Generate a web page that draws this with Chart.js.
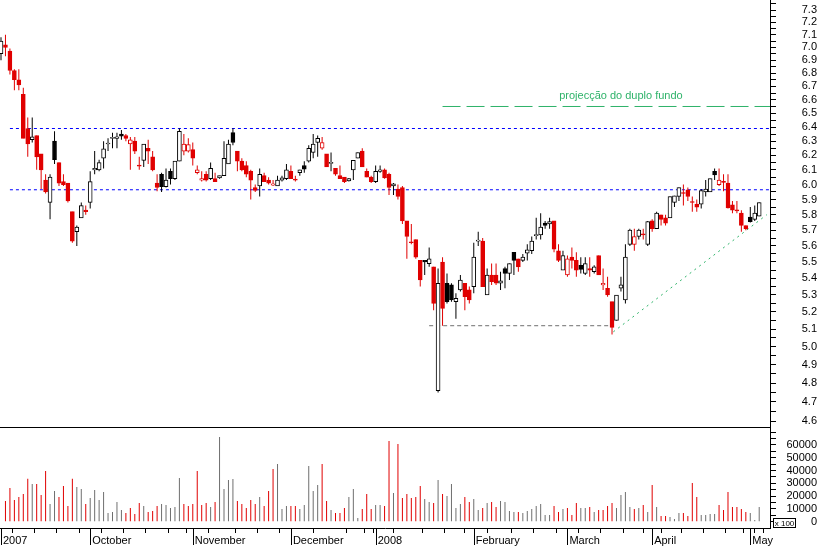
<!DOCTYPE html>
<html>
<head>
<meta charset="utf-8">
<title>Cotação diária</title>
<script src="https://cdn.jsdelivr.net/npm/chart.js@4.4.1/dist/chart.umd.min.js"></script>
<style>
  html, body { margin: 0; padding: 0; background: #ffffff; }
  #wrap { position: relative; width: 817px; height: 546px; overflow: hidden; background: #ffffff; }
  #price { position: absolute; left: 0; top: 0; }
  #volume { position: absolute; left: 0; top: 427px; }
</style>
</head>
<body>
<div id="wrap">
  <canvas id="price" width="817" height="427"></canvas>
  <canvas id="volume" width="817" height="119"></canvas>
</div>
<script>
// Daily sessions, Sep 2007 - May 2008 (one entry per session)
const opens = [
  6.95, 7.02, 6.97, 6.82, 6.75, 6.64, 6.39, 6.31, 6.34, 6.21,
  6.03, 5.88, 6.30, 6.15, 6.02, 6.01, 5.82, 5.69, 5.78, 5.83,
  5.88, 6.10, 6.10, 6.18, 6.28, 6.32, 6.32, 6.35, 6.34, 6.28,
  6.30, 6.13, 6.165, 6.25, 6.19, 6.01, 6.07, 5.985, 6.09, 6.04,
  6.16, 6.23, 6.23, 6.24, 6.08, 6.03, 6.07, 6.04, 6.04, 6.045,
  6.06, 6.14, 6.36, 6.23, 6.16, 6.13, 6.09, 5.98, 5.99, 6.06,
  6.03, 5.995, 5.99, 6.03, 6.04, 6.09, 6.032, 6.08, 6.13, 6.16,
  6.22, 6.29, 6.25, 6.21, 6.145, 6.11, 6.06, 6.05, 6.025, 6.10,
  6.18, 6.23, 6.09, 6.05, 6.02, 6.09, 6.10, 6.07, 5.99, 5.97,
  5.98, 5.76, 5.625, 5.64, 5.51, 5.51, 5.49, 5.47, 4.76, 5.50,
  5.37, 5.36, 5.26, 5.33, 5.37, 5.33, 5.35, 5.63, 5.63, 5.30,
  5.42, 5.42, 5.37, 5.46, 5.43, 5.56, 5.52, 5.51, 5.555, 5.57,
  5.665, 5.67, 5.745, 5.74, 5.76, 5.57, 5.45, 5.42, 5.53, 5.51,
  5.48, 5.43, 5.46, 5.44, 5.54, 5.36, 5.34, 5.26, 5.15, 5.34,
  5.27, 5.61, 5.61, 5.66, 5.675, 5.61, 5.76, 5.71, 5.80, 5.78,
  5.78, 5.88, 5.92, 5.945, 5.965, 5.885, 5.87, 5.87, 5.95, 5.95,
  6.09, 6.00, 6.02, 6.01, 5.865, 5.83, 5.81, 5.73, 5.785, 5.77,
  5.79
];
const highs = [
  7.08, 7.10, 6.99, 6.83, 6.83, 6.69, 6.47, 6.47, 6.34, 6.21,
  6.07, 6.07, 6.37, 6.15, 6.07, 6.01, 5.82, 5.73, 5.88, 5.86,
  6.09, 6.23, 6.17, 6.30, 6.32, 6.36, 6.36, 6.38, 6.35, 6.33,
  6.33, 6.19, 6.28, 6.31, 6.23, 6.07, 6.08, 6.11, 6.11, 6.16,
  6.39, 6.35, 6.32, 6.29, 6.13, 6.09, 6.09, 6.15, 6.08, 6.06,
  6.30, 6.31, 6.39, 6.23, 6.18, 6.16, 6.10, 6.00, 6.11, 6.08,
  6.05, 6.03, 6.06, 6.06, 6.14, 6.13, 6.06, 6.10, 6.16, 6.27,
  6.35, 6.34, 6.33, 6.21, 6.22, 6.11, 6.13, 6.05, 6.045, 6.165,
  6.22, 6.25, 6.11, 6.06, 6.13, 6.13, 6.11, 6.08, 6.01, 6.00,
  5.99, 5.76, 5.74, 5.64, 5.51, 5.51, 5.59, 5.47, 5.46, 5.53,
  5.43, 5.37, 5.31, 5.42, 5.37, 5.35, 5.62, 5.69, 5.65, 5.46,
  5.49, 5.49, 5.44, 5.47, 5.49, 5.56, 5.52, 5.55, 5.61, 5.66,
  5.78, 5.81, 5.76, 5.78, 5.76, 5.61, 5.57, 5.54, 5.59, 5.56,
  5.53, 5.53, 5.53, 5.48, 5.54, 5.46, 5.41, 5.26, 5.30, 5.41,
  5.61, 5.71, 5.71, 5.71, 5.71, 5.76, 5.77, 5.82, 5.80, 5.80,
  5.92, 5.925, 5.98, 6.00, 5.98, 5.92, 5.90, 5.97, 6.03, 6.04,
  6.11, 6.11, 6.07, 6.07, 5.89, 5.89, 5.83, 5.73, 5.85, 5.86,
  5.88
];
const lows = [
  6.90, 6.93, 6.79, 6.67, 6.67, 6.32, 6.19, 6.29, 6.10, 5.97,
  5.94, 5.77, 6.14, 5.99, 5.99, 5.88, 5.62, 5.60, 5.78, 5.80,
  5.84, 6.07, 6.09, 6.11, 6.23, 6.25, 6.25, 6.31, 6.30, 6.10,
  6.21, 6.10, 6.12, 6.14, 6.09, 5.955, 5.95, 5.98, 6.00, 6.03,
  6.16, 6.20, 6.22, 6.13, 6.07, 6.02, 6.02, 6.03, 6.02, 6.04,
  6.06, 6.14, 6.27, 6.09, 6.09, 6.05, 5.90, 5.95, 5.92, 6.02,
  6.00, 5.99, 5.99, 6.02, 6.03, 6.04, 6.02, 6.06, 6.08, 6.15,
  6.18, 6.19, 6.24, 6.12, 6.09, 6.06, 6.04, 6.01, 6.02, 6.03,
  6.18, 6.12, 6.05, 6.01, 6.01, 6.08, 6.04, 5.93, 5.93, 5.90,
  5.74, 5.52, 5.61, 5.52, 5.35, 5.42, 5.47, 5.21, 4.75, 5.12,
  5.25, 5.26, 5.16, 5.32, 5.21, 5.25, 5.31, 5.60, 5.35, 5.30,
  5.36, 5.36, 5.33, 5.34, 5.39, 5.42, 5.44, 5.50, 5.51, 5.55,
  5.64, 5.64, 5.71, 5.71, 5.56, 5.50, 5.45, 5.41, 5.46, 5.41,
  5.43, 5.42, 5.41, 5.43, 5.42, 5.33, 5.29, 5.07, 5.15, 5.32,
  5.25, 5.60, 5.57, 5.64, 5.64, 5.60, 5.69, 5.71, 5.73, 5.73,
  5.78, 5.85, 5.89, 5.86, 5.89, 5.82, 5.82, 5.84, 5.92, 5.95,
  6.03, 5.99, 5.955, 5.84, 5.81, 5.81, 5.69, 5.70, 5.75, 5.76,
  5.79
];
const closes = [
  7.05, 7.00, 6.82, 6.75, 6.71, 6.32, 6.28, 6.33, 6.19, 6.10,
  5.95, 6.05, 6.17, 6.01, 6.00, 5.89, 5.63, 5.72, 5.86, 5.82,
  6.02, 6.11, 6.15, 6.245, 6.285, 6.325, 6.33, 6.335, 6.32, 6.31,
  6.23, 6.125, 6.28, 6.23, 6.10, 5.98, 5.985, 6.03, 6.04, 6.16,
  6.37, 6.28, 6.275, 6.18, 6.10, 6.04, 6.03, 6.11, 6.02, 6.06,
  6.18, 6.28, 6.29, 6.16, 6.10, 6.07, 6.03, 5.96, 6.07, 6.02,
  6.01, 6.005, 6.03, 6.045, 6.10, 6.04, 6.03, 6.10, 6.105, 6.25,
  6.28, 6.32, 6.29, 6.12, 6.15, 6.07, 6.04, 6.02, 6.04, 6.165,
  6.22, 6.12, 6.05, 6.02, 6.09, 6.10, 6.045, 5.98, 6.005, 5.92,
  5.76, 5.66, 5.62, 5.53, 5.39, 5.50, 5.52, 5.25, 5.37, 5.22,
  5.26, 5.27, 5.28, 5.39, 5.29, 5.27, 5.53, 5.635, 5.35, 5.42,
  5.38, 5.37, 5.385, 5.43, 5.49, 5.51, 5.47, 5.53, 5.575, 5.63,
  5.67, 5.72, 5.73, 5.755, 5.58, 5.51, 5.54, 5.52, 5.51, 5.45,
  5.455, 5.49, 5.45, 5.47, 5.42, 5.37, 5.30, 5.11, 5.30, 5.36,
  5.53, 5.70, 5.66, 5.70, 5.67, 5.755, 5.71, 5.81, 5.77, 5.745,
  5.92, 5.925, 5.98, 5.94, 5.92, 5.88, 5.85, 5.96, 5.97, 6.04,
  6.065, 6.03, 6.015, 5.845, 5.83, 5.825, 5.73, 5.71, 5.755, 5.81,
  5.88
];
// volume in units of 1 (axis shows x 100); first session hidden behind the frame
const volumes = [
  null, 16200, 26300, 17000, 19300, 21600, 33600, 29500, 29500, 20900,
  39600, 13800, 24000, 19300, 27900, 12300, 33600, 27100, 25500, 13800,
  18500, 24800, 17000, 23200, 6800, 7600, 15400, 9100, 6800, 10700,
  6000, 14600, 12300, 7600, 8300, 12300, 13800, 13000, 10700, 11500,
  34200, 13800, 12300, 13800, 39600, 13000, 14600, 11500, 15400, 66200,
  25500, 32600, 33400, 16200, 13800, 10700, 17000, 13800, 19300, 12300,
  24000, 41200, 45100, 9900, 12300, 12300, 12300, 9900, 13000, 43500,
  24000, 28700, 45100, 16200, 9100, 6800, 6800, 10700, 19300, 25500,
  2900, 9900, 21600, 9900, 13000, 13000, 12300, 63100, 22400, 60700,
  18500, 21600, 18500, 19300, 27900, 17700, 15400, 14600, 32600, 21600,
  20100, 29500, 10700, 13800, 19300, 15400, 17700, 9100, 10700, 14600,
  15400, 11500, 16200, 15400, 8300, 7600, 7600, 6800, 8300, 9900,
  12300, 13800, 5200, 5200, 12300, 7600, 9900, 10700, 5200, 14600,
  10700, 10700, 11500, 7600, 9100, 9100, 12300, 14600, 10700, 20900,
  23200, 11500, 9900, 10700, 13000, 7600, 28700, 11500, 4400, 4400,
  3700, 2100, 6800, 6800, 4400, 30200, 19300, 5200, 5200, 6000,
  6000, 13000, 9100, 23200, 11500, 11500, 9900, 7600, 6800, 1300,
  11500
];

// axis labels
const priceTickLabels = [
  '4.6', '4.7', '4.8', '4.9', '5.0', '5.1', '5.2', '5.3', '5.4', '5.5',
  '5.6', '5.7', '5.8', '5.9', '6.0', '6.1', '6.2', '6.3', '6.4', '6.5',
  '6.6', '6.7', '6.8', '6.9', '7.0', '7.1', '7.2', '7.3'
];
const volumeTickLabels = ['0', '10000', '20000', '30000', '40000', '50000', '60000'];
const monthLabels = ['2007', 'October', 'November', 'December', '2008', 'February', 'March', 'April', 'May'];
const monthStarts = [0, 20, 43, 65, 84, 106, 127, 146, 168];
const weekStarts = [5, 10, 15, 25, 30, 35, 40, 50, 55, 60, 75, 80, 83, 92, 97, 102, 112, 117, 122, 132, 137, 142, 150, 155, 160, 165, 170];

// analysis drawn on the chart
const resistanceLevel = 6.39;
const supportLevel = 5.965;
const targetLevel = 6.55;
const bottomLevel = 5.12;
const trendStart = [137.3, 5.085];
const trendEnd = [171.7, 5.80];
const targetNote = 'projecção do duplo fundo';

const RED = '#e00000';
const BLACK = '#000000';
const GREY = '#6f6f6f';
const BLUE = '#0000ff';
const GREEN = '#2fb36a';
const FONT = '"Liberation Sans", Arial, sans-serif';

Chart.defaults.font.family = FONT;
Chart.defaults.font.size = 11;
Chart.defaults.color = '#000000';

const X_MIN = -0.224;
const X_MAX = 172.42;

const idx = closes.map((c, i) => i);
const downDay = idx.map(i => i > 0 && closes[i] < closes[i - 1]);
const candleColor = idx.map(i => downDay[i] ? RED : BLACK);
const bodyFill = idx.map(i => closes[i] >= opens[i] ? '#ffffff' : candleColor[i]);
const volumeColor = idx.map(i => downDay[i] ? RED : GREY);

function levelLine(x1, y1, x2, y2, color, dash) {
    return {
        type: 'line',
        data: [{x: x1, y: y1}, {x: x2, y: y2}],
        borderColor: color,
        borderWidth: 1,
        borderDash: dash,
        pointRadius: 0,
        fill: false,
        order: 3
    };
}

function fixedWidth(w) {
    return function (scale) {
        scale.width = w;
        scale.paddingTop = 0;
        scale.paddingBottom = 0;
    };
}

// price tick marks: every 0.1 labelled, 0.05 in between
const priceTickLabelValues = priceTickLabels.map(Number);
const priceTickValues = priceTickLabelValues.slice();
for (let i = 0; i < priceTickLabelValues.length - 1; i++) {
    priceTickValues.push((priceTickLabelValues[i] + priceTickLabelValues[i + 1]) / 2);
}
priceTickValues.push(7.35);
priceTickValues.sort((a, b) => a - b);

const priceExtras = {
    id: 'priceExtras',
    afterDraw(chart) {
        const {ctx, scales} = chart;
        ctx.save();
        ctx.fillStyle = GREEN;
        ctx.font = '11px ' + FONT;
        ctx.textAlign = 'center';
        ctx.textBaseline = 'middle';
        ctx.fillText(targetNote, scales.x.getPixelForValue(139), scales.y.getPixelForValue(6.63));
        ctx.restore();
    }
};

new Chart(document.getElementById('price'), {
    type: 'bar',
    data: {
        datasets: [
            {
                label: 'body',
                data: idx.map(i => ({x: i, y: [opens[i], closes[i]]})),
                backgroundColor: bodyFill,
                borderColor: candleColor,
                borderWidth: 1,
                borderSkipped: false,
                barThickness: 4,
                minBarLength: 1,
                grouped: false,
                order: 0
            },
            {
                label: 'range',
                data: idx.map(i => ({x: i, y: [lows[i], highs[i]]})),
                backgroundColor: candleColor,
                borderWidth: 0,
                barThickness: 1,
                minBarLength: 1,
                inflateAmount: 0,
                grouped: false,
                order: 1
            },
            levelLine(2, resistanceLevel, X_MAX, resistanceLevel, BLUE, [3, 3]),
            levelLine(2, supportLevel, X_MAX, supportLevel, BLUE, [3, 3]),
            levelLine(99, targetLevel, X_MAX, targetLevel, GREEN, [18, 6]),
            levelLine(96, bottomLevel, 137, bottomLevel, GREY, [4, 3]),
            levelLine(trendStart[0], trendStart[1], trendEnd[0], trendEnd[1], GREEN, [2, 4])
        ]
    },
    options: {
        responsive: false,
        animation: false,
        devicePixelRatio: 1,
        layout: {padding: {top: 0, right: 0, bottom: 1, left: 0}},
        plugins: {legend: {display: false}, tooltip: {enabled: false}},
        scales: {
            x: {
                type: 'linear',
                min: X_MIN,
                max: X_MAX,
                bounds: 'data',
                offset: false,
                display: false
            },
            y: {
                type: 'logarithmic',
                position: 'right',
                min: 4.5744,
                max: 7.3825,
                bounds: 'data',
                afterBuildTicks: scale => {
                    scale.ticks = priceTickValues.map(v => ({value: v}));
                },
                afterFit: fixedWidth(47),
                grid: {display: true, drawOnChartArea: false, drawTicks: true, tickLength: 6, color: BLACK},
                border: {display: true, color: BLACK, width: 1},
                ticks: {
                    autoSkip: false,
                    padding: 20,
                    crossAlign: 'far',
                    color: BLACK,
                    font: {size: 11},
                    callback: value => {
                        const s = value.toFixed(1);
                        return (priceTickLabels.includes(s) && Math.abs(value - Number(s)) < 1e-6) ? s : '';
                    }
                }
            }
        }
    },
    plugins: [priceExtras]
});

// volume panel
const volumeTickValues = [];
for (let v = 0; v <= 70000; v += 5000) volumeTickValues.push(v);

const xTickValues = monthStarts.concat(weekStarts).sort((a, b) => a - b);

const volumeExtras = {
    id: 'volumeExtras',
    afterDraw(chart) {
        const {ctx, chartArea, scales} = chart;
        ctx.save();
        ctx.strokeStyle = BLACK;
        ctx.lineWidth = 1;
        ctx.beginPath();
        ctx.moveTo(chartArea.left, chartArea.top + 0.5);
        ctx.lineTo(chartArea.right, chartArea.top + 0.5);
        ctx.stroke();

        // month separators run down beside the labels
        monthStarts.forEach(m => {
            const px = Math.round(scales.x.getPixelForValue(m)) + 0.5;
            ctx.beginPath();
            ctx.moveTo(px, chartArea.bottom);
            ctx.lineTo(px, chart.height - 1);
            ctx.stroke();
        });

        // unit box
        const bx = 773.5, by = chartArea.bottom - 9.5;
        ctx.fillStyle = '#ffffff';
        ctx.fillRect(bx, by, 22, 9);
        ctx.strokeRect(bx, by, 22, 9);
        ctx.fillStyle = BLACK;
        ctx.font = '8px ' + FONT;
        ctx.textAlign = 'center';
        ctx.textBaseline = 'middle';
        ctx.fillText('x 100', bx + 11, by + 5);
        ctx.restore();
    }
};

new Chart(document.getElementById('volume'), {
    type: 'bar',
    data: {
        datasets: [{
            label: 'volume',
            data: idx.map(i => ({x: i, y: volumes[i]})),
            backgroundColor: volumeColor,
            borderWidth: 0,
            barThickness: 1,
            inflateAmount: 0,
            grouped: false
        }]
    },
    options: {
        responsive: false,
        animation: false,
        devicePixelRatio: 1,
        layout: {padding: 0},
        plugins: {legend: {display: false}, tooltip: {enabled: false}},
        scales: {
            x: {
                type: 'linear',
                min: X_MIN,
                max: X_MAX,
                bounds: 'data',
                offset: false,
                afterBuildTicks: scale => {
                    scale.ticks = xTickValues.map(v => ({value: v}));
                },
                afterFit: scale => {
                    scale.height = 18;
                    scale.paddingLeft = 0;
                    scale.paddingRight = 0;
                },
                grid: {display: true, drawOnChartArea: false, drawTicks: true, tickLength: 5, color: BLACK},
                border: {display: true, color: BLACK, width: 1},
                ticks: {
                    autoSkip: false,
                    maxRotation: 0,
                    align: 'start',
                    labelOffset: 2,
                    padding: 1,
                    color: BLACK,
                    font: {size: 11},
                    callback: value => {
                        const m = monthStarts.indexOf(value);
                        return m >= 0 ? monthLabels[m] : '';
                    }
                }
            },
            y: {
                type: 'linear',
                position: 'right',
                min: -4930,
                max: 74080,
                bounds: 'data',
                afterBuildTicks: scale => {
                    scale.ticks = volumeTickValues.map(v => ({value: v}));
                },
                afterFit: fixedWidth(47),
                grid: {display: true, drawOnChartArea: false, drawTicks: true, tickLength: 6, color: BLACK},
                border: {display: true, color: BLACK, width: 1},
                ticks: {
                    autoSkip: false,
                    padding: 5,
                    crossAlign: 'far',
                    color: BLACK,
                    font: {size: 11},
                    callback: value => {
                        const s = String(value);
                        return volumeTickLabels.includes(s) ? s : '';
                    }
                }
            }
        }
    },
    plugins: [volumeExtras]
});
</script>
</body>
</html>
